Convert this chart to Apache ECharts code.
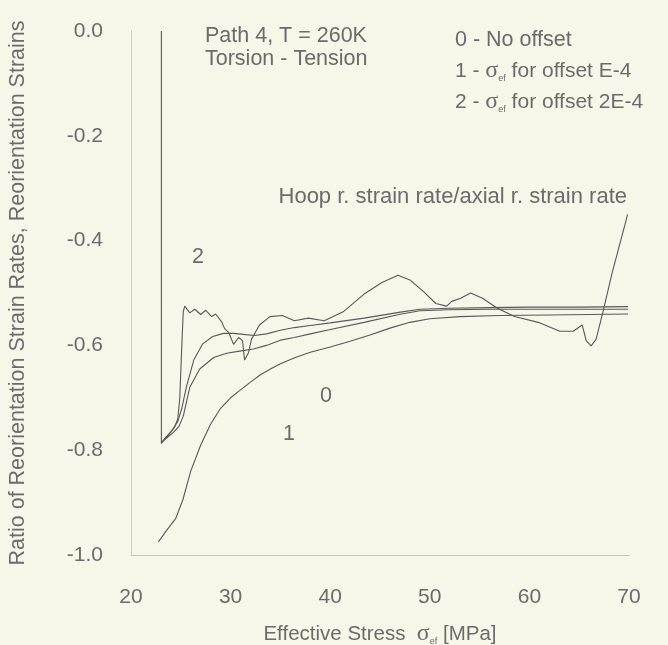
<!DOCTYPE html>
<html>
<head>
<meta charset="utf-8">
<script src="https://cdn.jsdelivr.net/npm/echarts@6/dist/echarts.min.js"></script>
<style>
html,body{margin:0;padding:0;background:#f6f7e9;}
#c{width:668px;height:645px;}
</style>
</head>
<body>
<div id="c"></div>
<script>
// x ticks and y ticks
var xTicks = [20, 30, 40, 50, 60, 70];
var yTicks = [0, -0.2, -0.4, -0.6, -0.8, -1.0];

// Hoop r. strain rate / axial r. strain rate (wiggly curve)
var hoopX = [23.05, 23.05, 23.5, 24.0, 24.4, 24.7, 24.9, 25.1, 25.25, 25.4, 25.9, 26.4, 27.0, 27.5, 28.1, 28.5, 29.1, 29.4, 29.8, 30.3, 30.8, 31.2, 31.4, 31.8, 32.1, 32.9, 33.95, 35.2, 36.4, 37.8, 39.4, 41.3, 43.4, 45.2, 46.8, 48.0, 49.4, 50.6, 51.7, 52.2, 53.1, 54.1, 55.3, 56.7, 58.5, 60.9, 63.05, 64.4, 65.3, 65.7, 66.2, 66.7, 67.4, 68.3, 69.7, 69.85];
var hoopY = [0.0, -0.787, -0.775, -0.765, -0.755, -0.74, -0.70, -0.60, -0.535, -0.525, -0.538, -0.531, -0.541, -0.533, -0.545, -0.54, -0.555, -0.568, -0.575, -0.598, -0.585, -0.591, -0.628, -0.614, -0.588, -0.561, -0.545, -0.543, -0.553, -0.548, -0.553, -0.536, -0.502, -0.48, -0.466, -0.475, -0.498, -0.52, -0.525, -0.516, -0.51, -0.5, -0.51, -0.528, -0.545, -0.556, -0.573, -0.573, -0.561, -0.591, -0.601, -0.588, -0.535, -0.462, -0.362, -0.35];

// curve 2 (upper smooth)
var c2X = [23.05, 23.6, 24.2, 24.7, 25.1, 25.55, 26.3, 27.2, 28.2, 29.3, 30.3, 31.3, 32.4, 33.6, 35.0, 36.4, 38.0, 40.0, 43.4, 46.9, 49.0, 52.0, 56.0, 60.0, 65.0, 69.9];
var c2Y = [-0.785, -0.775, -0.76, -0.745, -0.72, -0.68, -0.628, -0.597, -0.583, -0.577, -0.577, -0.579, -0.581, -0.578, -0.571, -0.566, -0.562, -0.557, -0.548, -0.537, -0.531, -0.529, -0.528, -0.527, -0.527, -0.526];

// curve 0 (middle smooth)
var c0X = [23.05, 23.7, 24.3, 24.8, 25.25, 25.9, 26.9, 28.3, 29.6, 30.9, 32.3, 33.6, 35.0, 36.4, 38.0, 39.9, 43.4, 46.9, 49.0, 52.0, 56.0, 60.0, 65.0, 69.9];
var c0Y = [-0.785, -0.775, -0.765, -0.755, -0.735, -0.68, -0.645, -0.623, -0.615, -0.611, -0.607, -0.6, -0.59, -0.585, -0.578, -0.57, -0.556, -0.541, -0.534, -0.532, -0.531, -0.531, -0.531, -0.531];

// curve 1 (lowest smooth)
var c1X = [22.75, 23.5, 24.5, 25.2, 26.0, 27.0, 28.0, 29.0, 30.0, 31.0, 32.0, 33.0, 34.0, 35.0, 36.5, 38.0, 40.0, 42.0, 44.0, 46.0, 48.0, 50.0, 53.0, 57.0, 62.0, 66.0, 69.9];
var c1Y = [-0.975, -0.955, -0.93, -0.895, -0.84, -0.79, -0.75, -0.72, -0.70, -0.685, -0.67, -0.656, -0.645, -0.635, -0.623, -0.613, -0.603, -0.592, -0.58, -0.567, -0.556, -0.549, -0.545, -0.543, -0.542, -0.541, -0.540];

function pairs(xs, ys){ return xs.map(function(x,i){ return [x, ys[i]]; }); }

var txt = '#6b6b6b';
var lineCol = '#585858';
var font = '"Liberation Sans", Arial, sans-serif';
var sig = '"Liberation Serif", "DejaVu Serif", serif';

var chart = echarts.init(document.getElementById('c'), null, {renderer:'canvas'});

function lineSeries(name, xs, ys){
  return {
    name: name, type: 'line', data: pairs(xs, ys), showSymbol: false, symbol: 'none',
    clip: false, smooth: false,
    lineStyle: {color: lineCol, width: 1.1}, animation: false
  };
}

function legendRich(){
  return {
    a: {fontSize: 21, fontFamily: font, fill: txt, lineHeight: 24},
    s: {fontSize: 24, fontFamily: sig, fill: txt, lineHeight: 24},
    e: {fontSize: 9, fontFamily: font, fill: txt, lineHeight: 24, verticalAlign: 'bottom'},
    b: {fontSize: 21, fontFamily: font, fill: txt, lineHeight: 24}
  };
}

chart.setOption({
  backgroundColor: '#f6f7e9',
  animation: false,
  grid: {left: 131, right: 39, top: 31, bottom: 90, containLabel: false, outerBoundsMode: 'none'},
  xAxis: {
    type: 'value', min: 20, max: 70, interval: 10,
    axisLine: {show: true, onZero: false, lineStyle: {color: '#c4c4bb', width: 1}},
    axisTick: {show: false},
    splitLine: {show: false},
    axisLabel: {color: txt, fontSize: 21, fontFamily: font, margin: 32,
      formatter: function(v){ return xTicks.indexOf(v) >= 0 ? String(v) : ''; }},
    name: '{a|Effective Stress  }{s|σ}{e|ef}{a| [MPa]}',
    nameLocation: 'middle', nameGap: 67,
    nameTextStyle: {color: txt, fontSize: 20, fontFamily: font,
      rich: {a: {fontSize: 20.5, color: txt, fontFamily: font, lineHeight: 24},
             s: {fontSize: 24, color: txt, fontFamily: sig, lineHeight: 24},
             e: {fontSize: 9, color: txt, fontFamily: font, lineHeight: 24, verticalAlign: 'bottom'}}}
  },
  yAxis: {
    type: 'value', min: -1, max: 0, interval: 0.2,
    axisLine: {show: true, onZero: false, lineStyle: {color: '#d0d0c6', width: 1}},
    axisTick: {show: false},
    splitLine: {show: false},
    axisLabel: {color: txt, fontSize: 21, fontFamily: font, margin: 28,
      formatter: function(v){ return (Math.abs(v) < 1e-9 ? 0 : v).toFixed(1); }},
    name: 'Ratio of Reorientation Strain Rates, Reorientation Strains',
    nameLocation: 'middle', nameGap: 102, nameRotate: 90,
    nameTextStyle: {color: txt, fontSize: 21.5, fontFamily: font}
  },
  series: [
    lineSeries('hoop', hoopX, hoopY),
    lineSeries('2', c2X, c2Y),
    lineSeries('0', c0X, c0Y),
    lineSeries('1', c1X, c1Y)
  ],
  graphic: [
    {type: 'text', left: 205, top: 25, style: {text: 'Path 4, T = 260K', fill: txt, font: '21.5px ' + font}},
    {type: 'text', left: 205, top: 48, style: {text: 'Torsion - Tension', fill: txt, font: '21.5px ' + font}},
    {type: 'text', left: 455, top: 29, style: {text: '0 - No offset', fill: txt, font: '21.5px ' + font}},
    {type: 'text', left: 455, top: 59, style: {
      text: '{a|1 - }{s|σ}{e|ef}{b| for offset E-4}', fill: txt, rich: legendRich()}},
    {type: 'text', left: 455, top: 90, style: {
      text: '{a|2 - }{s|σ}{e|ef}{b| for offset 2E-4}', fill: txt, rich: legendRich()}},
    {type: 'text', right: 41, top: 186, style: {text: 'Hoop r. strain rate/axial r. strain rate', fill: txt, font: '22px ' + font}},
    {type: 'text', left: 192, top: 246, style: {text: '2', fill: txt, font: '21.5px ' + font}},
    {type: 'text', left: 320, top: 385, style: {text: '0', fill: txt, font: '21.5px ' + font}},
    {type: 'text', left: 283, top: 423, style: {text: '1', fill: txt, font: '21.5px ' + font}}
  ]
});
</script>
</body>
</html>
